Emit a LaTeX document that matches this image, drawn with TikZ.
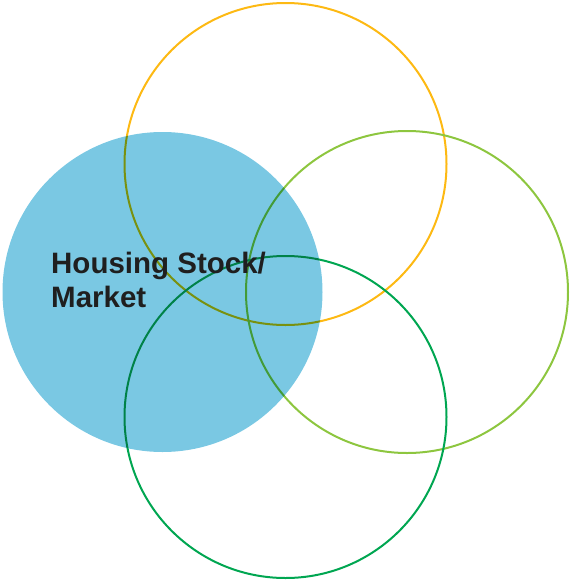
\documentclass[tikz,border=0pt]{standalone}
\usepackage{fontspec}
\setmainfont{Liberation Sans}
\definecolor{cblue}{HTML}{7AC8E3}
\definecolor{corange}{HTML}{FDB913}
\definecolor{clgreen}{HTML}{8DC63F}
\definecolor{cdgreen}{HTML}{00A651}
\tikzset{ring/.style={line width=2pt}}
\begin{document}
\begin{tikzpicture}[x=1pt,y=-1pt]
\useasboundingbox (0,0) rectangle (570,584);
\draw[ring,corange] (285.5,164) circle (161);
\draw[ring,clgreen] (407,292) circle (161);
\draw[ring,cdgreen] (285.5,417) circle (161);
\begin{scope}[blend mode=multiply]
\fill[cblue] (162.5,292) circle (160);
\end{scope}
\node[anchor=base west,inner sep=0pt,font=\fontsize{29.5}{34}\selectfont\bfseries,text=black!88] (lbl1) at (51,273) {Housing Stock/};
\node[anchor=base west,inner sep=0pt,font=\fontsize{29.5}{34}\selectfont\bfseries,text=black!88] (lbl2) at (51,307) {Market};
\end{tikzpicture}
\end{document}
